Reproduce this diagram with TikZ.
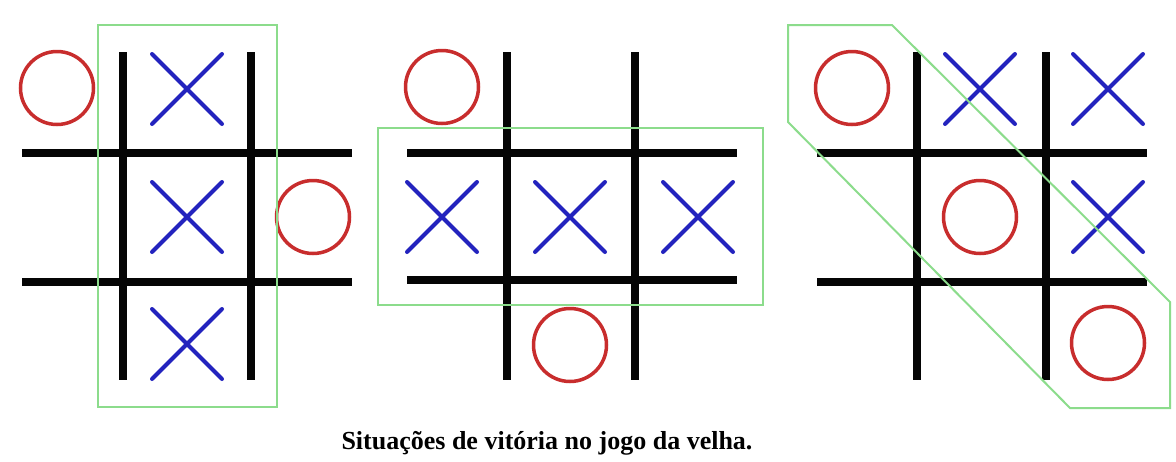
\documentclass[tikz,border=0pt]{standalone}
\usepackage{fontspec}
\setmainfont{Liberation Serif}
\usetikzlibrary{shapes.misc}
\definecolor{gridblack}{RGB}{5,5,5}
\definecolor{xblue}{RGB}{35,35,190}
\definecolor{ored}{RGB}{200,45,45}
\definecolor{hlgreen}{RGB}{140,220,140}
\tikzset{
  gridline/.style={gridblack,line width=7.5pt},
  xmark/.style={cross out,draw=xblue,line width=4pt,minimum size=70pt,inner sep=0pt,outer sep=0pt,line cap=round},
  omark/.style={circle,draw=ored,line width=3.5pt,minimum size=73pt,inner sep=0pt},
  hlbox/.style={draw=hlgreen,line width=2pt},
}
\begin{document}
\begin{tikzpicture}[x=1pt,y=-1pt]
\useasboundingbox[fill=white] (0,0) rectangle (1176,461);
% ---------- board 1 ----------
\draw[gridline] (123,52)--(123,380) (251,52)--(251,380) (22,153)--(352,153) (22,282)--(352,282);
\node[xmark] (a12) at (187,89) {};
\node[xmark] (a22) at (187,217) {};
\node[xmark] (a32) at (187,344) {};
\node[omark] (a11) at (57,88) {};
\node[omark] (a23) at (313,217) {};
\draw[hlbox] (98,25) rectangle (277,407);
% ---------- board 2 ----------
\draw[gridline] (507,52)--(507,380) (635,52)--(635,380) (407,153)--(737,153) (407,280)--(737,280);
\node[xmark] (b21) at (442,217) {};
\node[xmark] (b22) at (570,217) {};
\node[xmark] (b23) at (698,217) {};
\node[omark] (b11) at (442,87) {};
\node[omark] (b32) at (570,345) {};
\draw[hlbox] (378,128) rectangle (763,305);
% ---------- board 3 ----------
\draw[gridline] (917,52)--(917,380) (1046,52)--(1046,380) (817,153)--(1147,153) (817,282)--(1147,282);
\node[omark] (c11) at (852,88) {};
\node[omark] (c22) at (980,217) {};
\node[omark] (c33) at (1108,343) {};
\node[xmark] (c12) at (980,89) {};
\node[xmark] (c13) at (1108,89) {};
\node[xmark] (c23) at (1108,217) {};
\draw[hlbox] (788,25)--(892,25)--(1170,302)--(1170,408)--(1070,408)--(788,122)--cycle;
% ---------- caption ----------
\node[font=\fontsize{26}{30}\selectfont\bfseries] (cap) at (547,443) {Situações de vitória no jogo da velha.};
\end{tikzpicture}
\end{document}
